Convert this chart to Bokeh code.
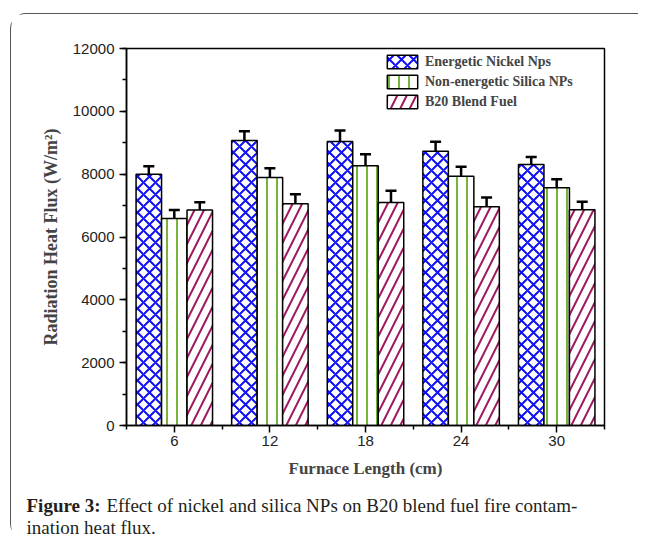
from bokeh.plotting import figure
from bokeh.layouts import column
from bokeh.models import (ColumnDataSource, FixedTicker, Whisker, TeeHead, Legend,
                          LegendItem, Label, Range1d)
from bokeh.embed import file_html
from bokeh.resources import INLINE

# ---- data ----
lengths = [6, 12, 18, 24, 30]
series = ["Energetic Nickel Nps", "Non-energetic Silica NPs", "B20 Blend Fuel"]
nickel = [8000, 9070, 9040, 8730, 8310]
nickel_err = [250, 300, 350, 300, 240]
silica = [6590, 7890, 8270, 7930, 7570]
silica_err = [270, 300, 360, 310, 265]
b20 = [6860, 7060, 7100, 6960, 6870]
b20_err = [250, 300, 370, 300, 250]
y_ticks = [0, 2000, 4000, 6000, 8000, 10000, 12000]
caption_bold = "Figure 3:"
caption_line1 = "Effect of nickel and silica NPs on B20 blend fuel fire contam-"
caption_line2 = "ination heat flux."

# ---- style ----
offsets = [-1.6, 0.0, 1.6]
bar_w = 1.6
hatches = ["x", "|", "/"]
hcolors = ["#1010F0", "#76B43A", "#A01860"]
hscales = [12, 10, 19]

p = figure(width=627, height=466, output_backend="svg", toolbar_location=None,
           x_range=Range1d(3, 33), y_range=Range1d(0, 12000),
           min_border_left=115, min_border_right=34, min_border_top=34,
           min_border_bottom=54, frame_align=False)
p.xgrid.visible = False
p.ygrid.visible = False
p.outline_line_color = "black"
p.outline_line_width = 1.5
p.background_fill_color = "white"

vals = [nickel, silica, b20]
errs = [nickel_err, silica_err, b20_err]
items = []
for i in range(3):
    xs = [l + offsets[i] for l in lengths]
    src = ColumnDataSource(dict(x=xs, top=vals[i],
                                up=[v + e for v, e in zip(vals[i], errs[i])],
                                lo=[v - e for v, e in zip(vals[i], errs[i])]))
    r = p.vbar(x="x", top="top", bottom=0, width=bar_w, source=src,
               fill_color="white", line_color="black", line_width=1.5,
               hatch_pattern=hatches[i], hatch_color=hcolors[i],
               hatch_weight=2.0, hatch_scale=hscales[i])
    items.append(LegendItem(label=series[i], renderers=[r]))
    w = Whisker(base="x", upper="up", lower="lo", source=src,
                line_color="black", line_width=2.5,
                upper_head=TeeHead(size=11, line_width=2.5, line_color="black"),
                lower_head=TeeHead(size=11, line_width=2.5, line_color="black"))
    p.add_layout(w)

legend = Legend(items=items, location=(257, 315), padding=0, margin=0, spacing=3,
                glyph_width=38, glyph_height=17, label_standoff=4,
                label_text_font="Liberation Serif", label_text_font_style="bold",
                label_text_font_size="14px", border_line_alpha=0,
                background_fill_alpha=0)
p.add_layout(legend, "center")

# axes
p.xaxis.ticker = FixedTicker(ticks=lengths, minor_ticks=[3, 9, 15, 21, 27, 33])
p.yaxis.ticker = FixedTicker(ticks=y_ticks, minor_ticks=list(range(0, 12001, 1000)))
for ax in (p.xaxis[0], p.yaxis[0]):
    ax.axis_line_width = 1.5
    ax.major_tick_line_width = 1.5
    ax.minor_tick_line_width = 1.5
    ax.major_tick_in = 0
    ax.major_tick_out = 7
    ax.minor_tick_in = 0
    ax.minor_tick_out = 4
    ax.major_label_text_font = "Liberation Sans"
    ax.major_label_text_font_size = "15px"
    ax.major_label_text_color = "#222222"
    ax.axis_label_text_font = "Liberation Serif"
    ax.axis_label_text_font_style = "bold"
p.xaxis.axis_label_text_font_size = "17px"
p.yaxis.axis_label_text_font_size = "18px"
p.xaxis.major_label_standoff = 3
p.yaxis.major_label_standoff = 5
p.xaxis.axis_label = "Furnace Length (cm)"
p.yaxis.axis_label = "Radiation Heat Flux (W/m²)"
p.xaxis.axis_label_standoff = 10
p.yaxis.axis_label_standoff = 9

# ---- caption figure ----
c = figure(width=627, height=59, output_backend="svg", toolbar_location=None,
           title=None, x_range=Range1d(0, 627), y_range=Range1d(59, 0),
           x_axis_location=None, y_axis_location=None,
           min_border_left=0, min_border_right=0, min_border_top=0,
           min_border_bottom=0, frame_align=False)
c.xgrid.visible = False
c.ygrid.visible = False
c.outline_line_color = None
cap_color = "#231f20"
c.add_layout(Label(x=15, y=25, text=caption_bold, text_font="Liberation Serif",
                   text_font_style="bold", text_font_size="19px",
                   text_baseline="alphabetic", text_color=cap_color))
c.add_layout(Label(x=95, y=25, text=caption_line1, text_font="Liberation Serif",
                   text_font_size="19px", text_baseline="alphabetic",
                   text_color=cap_color))
c.add_layout(Label(x=15, y=47, text=caption_line2, text_font="Liberation Serif",
                   text_font_size="19px", text_baseline="alphabetic",
                   text_color=cap_color))

layout = column(p, c, spacing=0,
                styles={"margin-left": "10px", "margin-top": "13px",
                        "border-left": "1px solid #555555",
                        "border-top": "1px solid #555555",
                        "border-top-left-radius": "16px",
                        "border-bottom-left-radius": "16px"})

open("out.html", "w").write(file_html(layout, INLINE))
